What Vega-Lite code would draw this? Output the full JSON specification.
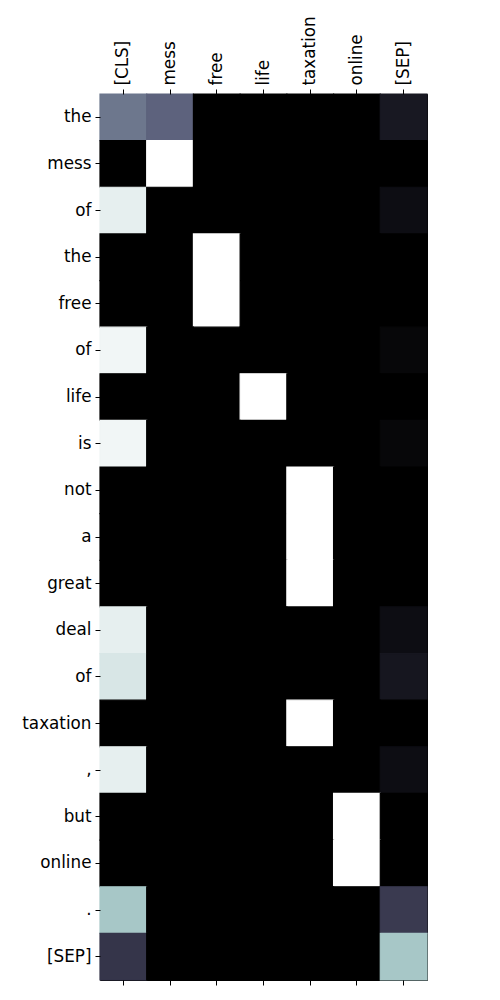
{
  "$schema": "https://vega.github.io/schema/vega-lite/v6.json",
  "width": 327,
  "height": 886,
  "autosize": {"type": "none"},
  "padding": {"left": 100, "top": 94, "right": 73, "bottom": 20},
  "background": "white",
  "config": {
    "view": {"fill": "black", "stroke": "black", "strokeWidth": 1},
    "axis": {"labelFont": "DejaVu Sans", "labelFontSize": 16.8, "labelColor": "black", "tickColor": "black", "tickSize": 5, "tickWidth": 1, "labelPadding": 4, "domain": false, "grid": false, "title": null}
  },
  "data": {"values": [
    {"r":0,"c":"[CLS]","v":0.49},{"r":0,"c":"mess","v":0.42},{"r":0,"c":"free","v":0},{"r":0,"c":"life","v":0},{"r":0,"c":"taxation","v":0},{"r":0,"c":"online","v":0},{"r":0,"c":"[SEP]","v":0.11},
    {"r":1,"c":"[CLS]","v":0},{"r":1,"c":"mess","v":1},{"r":1,"c":"free","v":0},{"r":1,"c":"life","v":0},{"r":1,"c":"taxation","v":0},{"r":1,"c":"online","v":0},{"r":1,"c":"[SEP]","v":0},
    {"r":2,"c":"[CLS]","v":0.93},{"r":2,"c":"mess","v":0},{"r":2,"c":"free","v":0},{"r":2,"c":"life","v":0},{"r":2,"c":"taxation","v":0},{"r":2,"c":"online","v":0},{"r":2,"c":"[SEP]","v":0.06},
    {"r":3,"c":"[CLS]","v":0},{"r":3,"c":"mess","v":0},{"r":3,"c":"free","v":1},{"r":3,"c":"life","v":0},{"r":3,"c":"taxation","v":0},{"r":3,"c":"online","v":0},{"r":3,"c":"[SEP]","v":0},
    {"r":4,"c":"[CLS]","v":0},{"r":4,"c":"mess","v":0},{"r":4,"c":"free","v":1},{"r":4,"c":"life","v":0},{"r":4,"c":"taxation","v":0},{"r":4,"c":"online","v":0},{"r":4,"c":"[SEP]","v":0},
    {"r":5,"c":"[CLS]","v":0.96},{"r":5,"c":"mess","v":0},{"r":5,"c":"free","v":0},{"r":5,"c":"life","v":0},{"r":5,"c":"taxation","v":0},{"r":5,"c":"online","v":0},{"r":5,"c":"[SEP]","v":0.03},
    {"r":6,"c":"[CLS]","v":0},{"r":6,"c":"mess","v":0},{"r":6,"c":"free","v":0},{"r":6,"c":"life","v":1},{"r":6,"c":"taxation","v":0},{"r":6,"c":"online","v":0},{"r":6,"c":"[SEP]","v":0},
    {"r":7,"c":"[CLS]","v":0.96},{"r":7,"c":"mess","v":0},{"r":7,"c":"free","v":0},{"r":7,"c":"life","v":0},{"r":7,"c":"taxation","v":0},{"r":7,"c":"online","v":0},{"r":7,"c":"[SEP]","v":0.03},
    {"r":8,"c":"[CLS]","v":0},{"r":8,"c":"mess","v":0},{"r":8,"c":"free","v":0},{"r":8,"c":"life","v":0},{"r":8,"c":"taxation","v":1},{"r":8,"c":"online","v":0},{"r":8,"c":"[SEP]","v":0},
    {"r":9,"c":"[CLS]","v":0},{"r":9,"c":"mess","v":0},{"r":9,"c":"free","v":0},{"r":9,"c":"life","v":0},{"r":9,"c":"taxation","v":1},{"r":9,"c":"online","v":0},{"r":9,"c":"[SEP]","v":0},
    {"r":10,"c":"[CLS]","v":0},{"r":10,"c":"mess","v":0},{"r":10,"c":"free","v":0},{"r":10,"c":"life","v":0},{"r":10,"c":"taxation","v":1},{"r":10,"c":"online","v":0},{"r":10,"c":"[SEP]","v":0},
    {"r":11,"c":"[CLS]","v":0.93},{"r":11,"c":"mess","v":0},{"r":11,"c":"free","v":0},{"r":11,"c":"life","v":0},{"r":11,"c":"taxation","v":0},{"r":11,"c":"online","v":0},{"r":11,"c":"[SEP]","v":0.06},
    {"r":12,"c":"[CLS]","v":0.89},{"r":12,"c":"mess","v":0},{"r":12,"c":"free","v":0},{"r":12,"c":"life","v":0},{"r":12,"c":"taxation","v":0},{"r":12,"c":"online","v":0},{"r":12,"c":"[SEP]","v":0.1},
    {"r":13,"c":"[CLS]","v":0},{"r":13,"c":"mess","v":0},{"r":13,"c":"free","v":0},{"r":13,"c":"life","v":0},{"r":13,"c":"taxation","v":1},{"r":13,"c":"online","v":0},{"r":13,"c":"[SEP]","v":0},
    {"r":14,"c":"[CLS]","v":0.93},{"r":14,"c":"mess","v":0},{"r":14,"c":"free","v":0},{"r":14,"c":"life","v":0},{"r":14,"c":"taxation","v":0},{"r":14,"c":"online","v":0},{"r":14,"c":"[SEP]","v":0.06},
    {"r":15,"c":"[CLS]","v":0},{"r":15,"c":"mess","v":0},{"r":15,"c":"free","v":0},{"r":15,"c":"life","v":0},{"r":15,"c":"taxation","v":0},{"r":15,"c":"online","v":1},{"r":15,"c":"[SEP]","v":0},
    {"r":16,"c":"[CLS]","v":0},{"r":16,"c":"mess","v":0},{"r":16,"c":"free","v":0},{"r":16,"c":"life","v":0},{"r":16,"c":"taxation","v":0},{"r":16,"c":"online","v":1},{"r":16,"c":"[SEP]","v":0},
    {"r":17,"c":"[CLS]","v":0.75},{"r":17,"c":"mess","v":0},{"r":17,"c":"free","v":0},{"r":17,"c":"life","v":0},{"r":17,"c":"taxation","v":0},{"r":17,"c":"online","v":0},{"r":17,"c":"[SEP]","v":0.26},
    {"r":18,"c":"[CLS]","v":0.24},{"r":18,"c":"mess","v":0},{"r":18,"c":"free","v":0},{"r":18,"c":"life","v":0},{"r":18,"c":"taxation","v":0},{"r":18,"c":"online","v":0},{"r":18,"c":"[SEP]","v":0.75}
  ]},
  "encoding": {
    "y": {"field": "r", "type": "ordinal", "sort": "ascending",
      "scale": {"paddingInner": 0, "paddingOuter": 0},
      "axis": {"orient": "left", "labelExpr": "['the','mess','of','the','free','of','life','is','not','a','great','deal','of','taxation',',','but','online','.','[SEP]'][datum.value]"}},
    "color": {"field": "v", "type": "quantitative", "legend": null,
      "scale": {"type": "linear", "domain": [0, 0.365079, 0.746032, 1], "range": ["#000000", "#515171", "#a6c6c6", "#ffffff"], "interpolate": "rgb"}},
    "stroke": {"field": "v", "type": "quantitative", "legend": null,
      "scale": {"type": "linear", "domain": [0, 0.365079, 0.746032, 1], "range": ["#000000", "#515171", "#a6c6c6", "#ffffff"], "interpolate": "rgb"}}
  },
  "layer": [
    {
      "mark": {"type": "rect", "strokeWidth": 1.2},
      "encoding": {
        "x": {"field": "c", "type": "nominal", "sort": ["[CLS]","mess","free","life","taxation","online","[SEP]"],
          "scale": {"paddingInner": 0, "paddingOuter": 0},
          "axis": {"orient": "top", "labelAngle": -90, "labelAlign": "left", "labelBaseline": "middle"}}
      }
    },
    {
      "mark": {"type": "rect", "opacity": 0},
      "encoding": {
        "x": {"field": "c", "type": "nominal", "sort": ["[CLS]","mess","free","life","taxation","online","[SEP]"],
          "scale": {"paddingInner": 0, "paddingOuter": 0},
          "axis": {"orient": "bottom", "labels": false}}
      }
    }
  ],
  "resolve": {"axis": {"x": "independent"}}
}
